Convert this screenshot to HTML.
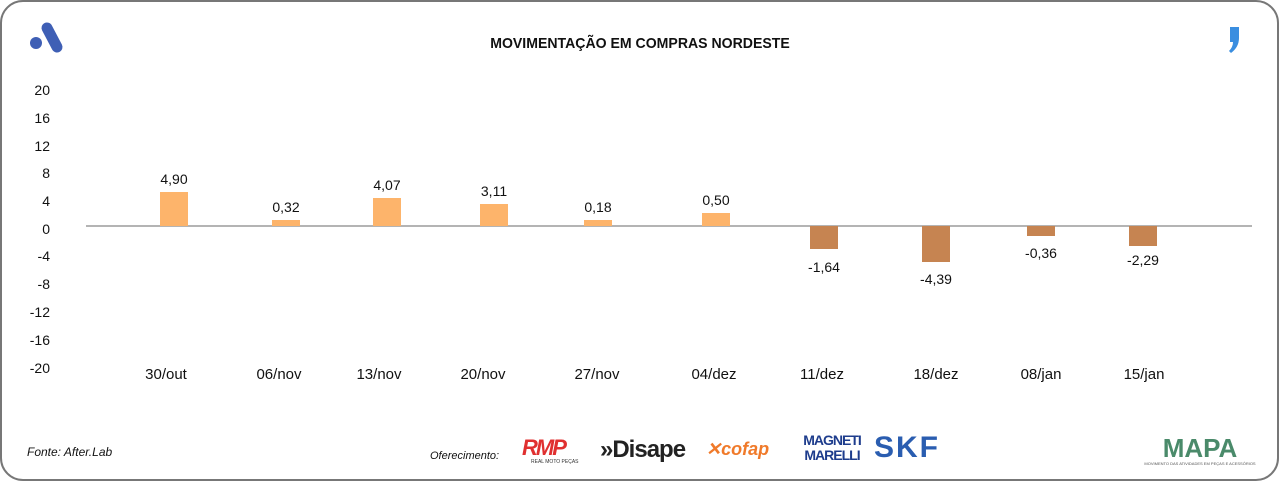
<!DOCTYPE html>
<html><head><meta charset="utf-8"><style>
body{margin:0;background:#fff;}
svg{display:block;font-family:"Liberation Sans",sans-serif;}
</style></head><body>
<svg width="1280" height="482" viewBox="0 0 1280 482">
<rect x="1" y="1" width="1277" height="479" rx="22" fill="#fff" stroke="#777" stroke-width="2"/>
<line x1="47" y1="28" x2="57" y2="47" stroke="#3f5fb5" stroke-width="11" stroke-linecap="round"/>
<circle cx="36" cy="43" r="6" fill="#3f5fb5"/>
<path d="M1230 27 h9 v11 q0 9 -8 15 l-2 -2 q4 -4 4 -9 h-3 z" fill="#3a8ee0"/>
<text x="640" y="48" text-anchor="middle" font-size="15" font-weight="bold" fill="#111" transform="translate(640,0) scale(0.94,1) translate(-640,0)">MOVIMENTAÇÃO EM COMPRAS NORDESTE</text>
<g font-size="14" fill="#111" text-anchor="end">
<text x="50" y="95">20</text><text x="50" y="123">16</text><text x="50" y="151">12</text>
<text x="50" y="178">8</text><text x="50" y="206">4</text><text x="50" y="234">0</text>
<text x="50" y="261">-4</text><text x="50" y="289">-8</text><text x="50" y="317">-12</text>
<text x="50" y="345">-16</text><text x="50" y="373">-20</text>
</g>
<line x1="86" y1="226" x2="1252" y2="226" stroke="#888" stroke-width="1.2"/>
<g fill="#FDB46B">
<rect x="160" y="192" width="28" height="34"/>
<rect x="272" y="220" width="28" height="6"/>
<rect x="373" y="198" width="28" height="28"/>
<rect x="480" y="204" width="28" height="22"/>
<rect x="584" y="220" width="28" height="6"/>
<rect x="702" y="213" width="28" height="13"/>
</g>
<g fill="#C68451">
<rect x="810" y="226" width="28" height="23"/>
<rect x="922" y="226" width="28" height="36"/>
<rect x="1027" y="226" width="28" height="10"/>
<rect x="1129" y="226" width="28" height="20"/>
</g>
<g font-size="14" fill="#111" text-anchor="middle">
<text x="174" y="184">4,90</text><text x="286" y="212">0,32</text><text x="387" y="190">4,07</text>
<text x="494" y="196">3,11</text><text x="598" y="212">0,18</text><text x="716" y="205">0,50</text>
<text x="824" y="272">-1,64</text><text x="936" y="284">-4,39</text><text x="1041" y="258">-0,36</text>
<text x="1143" y="265">-2,29</text>
</g>
<g font-size="15" fill="#111" text-anchor="middle">
<text x="166" y="379">30/out</text><text x="279" y="379">06/nov</text><text x="379" y="379">13/nov</text>
<text x="483" y="379">20/nov</text><text x="597" y="379">27/nov</text><text x="714" y="379">04/dez</text>
<text x="822" y="379">11/dez</text><text x="936" y="379">18/dez</text><text x="1041" y="379">08/jan</text>
<text x="1144" y="379">15/jan</text>
</g>
<text x="27" y="456" font-size="12" font-style="italic" fill="#111">Fonte: After.Lab</text>
<text x="430" y="459" font-size="11" font-style="italic" fill="#111">Oferecimento:</text>
<text x="522" y="455" font-size="22" font-weight="bold" font-style="italic" fill="#e03030" letter-spacing="-2">RMP</text>
<text x="531" y="463" font-size="5" fill="#333">REAL MOTO PEÇAS</text>
<text x="600" y="457" font-size="24" font-weight="bold" fill="#222" letter-spacing="-1">»Disape</text>
<text x="706" y="455" font-size="18" font-weight="bold" font-style="italic" fill="#f07a2a">✕cofap</text>
<text x="832" y="445" font-size="14" font-weight="bold" fill="#1d3c8c" text-anchor="middle" letter-spacing="-1">MAGNETI</text>
<text x="832" y="460" font-size="14" font-weight="bold" fill="#1d3c8c" text-anchor="middle" letter-spacing="-1">MARELLI</text>
<text x="874" y="457" font-size="30" font-weight="bold" fill="#2a5db0" letter-spacing="2">SKF</text>
<text x="1200" y="457" font-size="26" font-weight="bold" fill="#4a8a6a" text-anchor="middle">MAPA</text>
<text x="1200" y="465" font-size="4" fill="#555" text-anchor="middle">MOVIMENTO DAS ATIVIDADES EM PEÇAS E ACESSÓRIOS</text>
</svg>
</body></html>
